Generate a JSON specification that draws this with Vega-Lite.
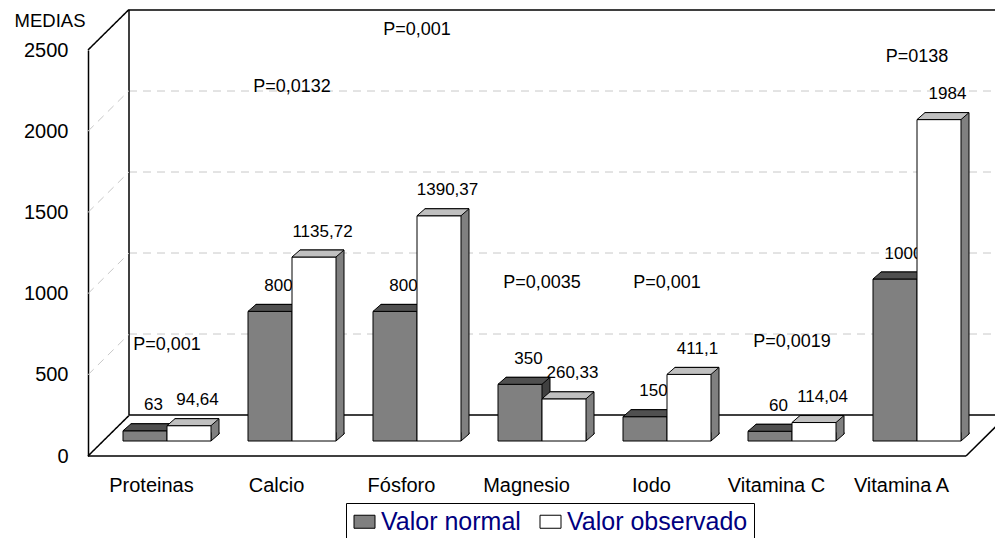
{
  "$schema": "https://vega.github.io/schema/vega-lite/v6.json",
  "width": 907,
  "height": 446,
  "autosize": {"type": "none"},
  "padding": {"left": 88, "top": 10, "right": 0, "bottom": 82},
  "background": "white",
  "config": {
    "view": {"stroke": null},
    "font": "Liberation Sans",
    "locale": {"number": {"decimal": ",", "thousands": ".", "grouping": [3], "currency": ["", " €"]}}
  },
  "datasets": {
    "medias": [
      {"nutriente": "Proteinas", "serie": "Valor normal", "valor": 63},
      {"nutriente": "Proteinas", "serie": "Valor observado", "valor": 94.64},
      {"nutriente": "Calcio", "serie": "Valor normal", "valor": 800},
      {"nutriente": "Calcio", "serie": "Valor observado", "valor": 1135.72},
      {"nutriente": "Fósforo", "serie": "Valor normal", "valor": 800},
      {"nutriente": "Fósforo", "serie": "Valor observado", "valor": 1390.37},
      {"nutriente": "Magnesio", "serie": "Valor normal", "valor": 350},
      {"nutriente": "Magnesio", "serie": "Valor observado", "valor": 260.33},
      {"nutriente": "Iodo", "serie": "Valor normal", "valor": 150},
      {"nutriente": "Iodo", "serie": "Valor observado", "valor": 411.1},
      {"nutriente": "Vitamina C", "serie": "Valor normal", "valor": 60},
      {"nutriente": "Vitamina C", "serie": "Valor observado", "valor": 114.04},
      {"nutriente": "Vitamina A", "serie": "Valor normal", "valor": 1000},
      {"nutriente": "Vitamina A", "serie": "Valor observado", "valor": 1984}
    ],
    "pvalores": [
      {"nutriente": "Proteinas", "p": "P=0,001", "altura": 593},
      {"nutriente": "Calcio", "p": "P=0,0132", "altura": 2185},
      {"nutriente": "Fósforo", "p": "P=0,001", "altura": 2537},
      {"nutriente": "Magnesio", "p": "P=0,0035", "altura": 975},
      {"nutriente": "Iodo", "p": "P=0,001", "altura": 975},
      {"nutriente": "Vitamina C", "p": "P=0,0019", "altura": 611},
      {"nutriente": "Vitamina A", "p": "P=0138", "altura": 2370}
    ],
    "escala": [{"v": 0}, {"v": 500}, {"v": 1000}, {"v": 1500}, {"v": 2000}, {"v": 2500}]
  },
  "resolve": {"scale": {"x": "independent", "y": "independent"}},
  "layer": [
    {
      "data": {"name": "escala"},
      "mark": {"type": "rule"},
      "encoding": {
        "x": {"datum": 0, "type": "quantitative", "scale": {"domain": [0, 7], "range": [41, 916]}, "axis": null},
        "x2": {"datum": 7},
        "y": {"field": "v", "type": "quantitative", "scale": {"domain": [0, 2500], "range": [405, 0], "nice": false}, "axis": null},
        "color": {"condition": {"test": "datum.v > 0 && datum.v < 2500", "value": "#c8c8c8"}, "value": "#000000"},
        "strokeDash": {"condition": {"test": "datum.v > 0 && datum.v < 2500", "value": [8, 6]}, "value": [1, 0]},
        "strokeWidth": {"condition": {"test": "datum.v > 0 && datum.v < 2500", "value": 1}, "value": 1.5}
      }
    },
    {
      "data": {"values": [{}]},
      "mark": {"type": "rule", "color": "#000000", "strokeWidth": 1.5},
      "encoding": {
        "x": {"datum": 0, "type": "quantitative", "scale": {"domain": [0, 7], "range": [41, 916]}, "axis": null},
        "y": {"datum": 0, "type": "quantitative", "scale": {"domain": [0, 2500], "range": [405, 0], "nice": false}, "axis": null},
        "y2": {"datum": 2500}
      }
    },
    {
      "data": {"name": "escala"},
      "mark": {"type": "point", "shape": "M0,0L1,-0.988", "size": 6724, "filled": false, "opacity": 1},
      "encoding": {
        "x": {"datum": 0, "type": "quantitative", "scale": {"domain": [0, 7], "range": [0, 878]}, "axis": null},
        "y": {
          "field": "v", "type": "quantitative",
          "scale": {"domain": [0, 2500], "range": [446, 40], "nice": false},
          "axis": {
            "values": [0, 500, 1000, 1500, 2000, 2500], "format": "d",
            "title": "MEDIAS", "titleAngle": 0, "titleX": -3, "titleY": 10, "titleAlign": "right", "titleBaseline": "middle",
            "titleFontSize": 18.5, "titleFontWeight": "normal", "titleColor": "#000000", "titleFont": "Liberation Sans",
            "labelFontSize": 20, "labelColor": "#000000", "labelFont": "Liberation Sans", "labelPadding": 20,
            "ticks": false, "tickSize": 0, "grid": false, "domain": true, "domainColor": "#000000", "domainWidth": 1.5,
            "labelFlush": false, "labelOverlap": false
          }
        },
        "stroke": {"condition": {"test": "datum.v > 0 && datum.v < 2500", "value": "#c8c8c8"}, "value": "#000000"},
        "strokeDash": {"condition": {"test": "datum.v > 0 && datum.v < 2500", "value": [8, 6]}, "value": [1, 0]},
        "strokeWidth": {"condition": {"test": "datum.v > 0 && datum.v < 2500", "value": 1}, "value": 1.5}
      }
    },
    {
      "data": {"values": [{}]},
      "mark": {"type": "rule", "color": "#000000", "strokeWidth": 1.5},
      "encoding": {
        "x": {"datum": 0, "type": "quantitative", "scale": {"domain": [0, 7], "range": [0, 878]}, "axis": null},
        "x2": {"datum": 7},
        "y": {"datum": 0, "type": "quantitative", "scale": {"domain": [0, 2500], "range": [446, 40], "nice": false}, "axis": null}
      }
    },
    {
      "data": {"values": [{}]},
      "mark": {"type": "point", "shape": "M0,0L1,-0.988", "size": 6724, "filled": false, "opacity": 1, "stroke": "#000000", "strokeWidth": 1.5},
      "encoding": {
        "x": {"datum": 7, "type": "quantitative", "scale": {"domain": [0, 7], "range": [0, 878]}, "axis": null},
        "y": {"datum": 0, "type": "quantitative", "scale": {"domain": [0, 2500], "range": [446, 40], "nice": false}, "axis": null}
      }
    },
    {
      "data": {"name": "medias"},
      "transform": [{"filter": "datum.serie == 'Valor normal'"}],
      "mark": {"type": "bar", "fill": "#404040", "stroke": "#000000", "strokeWidth": 1},
      "encoding": {
        "x": {"field": "nutriente", "type": "nominal", "sort": null, "axis": null,
              "scale": {"domain": ["Proteinas", "Calcio", "Fósforo", "Magnesio", "Iodo", "Vitamina C", "Vitamina A"], "range": [24.5, 899.5], "paddingInner": 0.296, "paddingOuter": 0.148}},
        "xOffset": {"field": "serie", "type": "nominal", "scale": {"domain": ["Valor normal", "Valor observado"]}},
        "y": {"field": "valor", "type": "quantitative", "scale": {"domain": [0, 2500], "range": [424, 19], "nice": false}, "axis": null}
      }
    },
    {
      "data": {"name": "medias"},
      "transform": [{"filter": "datum.serie == 'Valor normal'"}],
      "encoding": {
        "x": {
          "field": "nutriente", "type": "nominal", "sort": null,
          "scale": {"domain": ["Proteinas", "Calcio", "Fósforo", "Magnesio", "Iodo", "Vitamina C", "Vitamina A"], "range": [16.5, 891.5], "paddingInner": 0.296, "paddingOuter": 0.148},
          "axis": {"orient": "bottom", "title": null, "domain": false, "ticks": false, "tickSize": 0, "labelAngle": 0, "labelFontSize": 20, "labelFont": "Liberation Sans", "labelColor": "#000000", "labelPadding": 19, "labelOffset": -15.5}
        },
        "xOffset": {"field": "serie", "type": "nominal", "scale": {"domain": ["Valor normal", "Valor observado"]}},
        "y": {"field": "valor", "type": "quantitative", "scale": {"domain": [0, 2500], "range": [431, 26], "nice": false}, "axis": null}
      },
      "layer": [
        {
          "mark": {"type": "point", "shape": "M0.846,-0.33L0.846,0L1.154,-0.269L1.154,-0.33", "size": 2704, "filled": true, "fill": "#404040", "stroke": "#000000", "strokeWidth": 1, "opacity": 1},
          "encoding": {"y": {"datum": 0, "type": "quantitative"}}
        },
        {
          "mark": {"type": "bar", "stroke": "#000000", "strokeWidth": 1},
          "encoding": {
            "fill": {
              "field": "serie", "type": "nominal",
              "scale": {"domain": ["Valor normal", "Valor observado"], "range": ["#808080", "#ffffff"]},
              "legend": {"orient": "none", "legendX": 258, "legendY": 493, "direction": "horizontal", "title": null, "labelFontSize": 25, "labelFont": "Liberation Sans", "labelColor": "#000080", "labelLimit": 400, "symbolType": "M-1,-0.62L1,-0.62L1,0.62L-1,0.62Z", "symbolSize": 441, "symbolStrokeColor": "#000000", "symbolStrokeWidth": 1, "symbolOpacity": 1, "strokeColor": "#000000", "fillColor": "#ffffff", "padding": 6, "labelOffset": 4, "columnPadding": 17}
            }
          }
        },
        {
          "mark": {"type": "point", "shape": "M-0.846,0L0.846,0L1.154,-0.269L-0.538,-0.269Z", "size": 2704, "filled": true, "fill": "#505050", "stroke": "#000000", "strokeWidth": 1, "opacity": 1}
        },
        {
          "mark": {"type": "text", "dx": 8.5, "dy": -25.5, "baseline": "middle", "align": "center", "fontSize": 17, "font": "Liberation Sans", "color": "#000000"},
          "encoding": {"text": {"field": "valor", "type": "quantitative", "format": ".2~f"}}
        }
      ]
    },
    {
      "data": {"name": "medias"},
      "transform": [{"filter": "datum.serie == 'Valor observado'"}],
      "mark": {"type": "bar", "fill": "#808080", "stroke": "#000000", "strokeWidth": 1},
      "encoding": {
        "x": {"field": "nutriente", "type": "nominal", "sort": null, "axis": null,
              "scale": {"domain": ["Proteinas", "Calcio", "Fósforo", "Magnesio", "Iodo", "Vitamina C", "Vitamina A"], "range": [24.5, 899.5], "paddingInner": 0.296, "paddingOuter": 0.148}},
        "xOffset": {"field": "serie", "type": "nominal", "scale": {"domain": ["Valor normal", "Valor observado"]}},
        "y": {"field": "valor", "type": "quantitative", "scale": {"domain": [0, 2500], "range": [424, 19], "nice": false}, "axis": null}
      }
    },
    {
      "data": {"name": "medias"},
      "encoding": {
        "x": {
          "field": "nutriente", "type": "nominal", "sort": null, "axis": null,
          "scale": {"domain": ["Proteinas", "Calcio", "Fósforo", "Magnesio", "Iodo", "Vitamina C", "Vitamina A"], "range": [16.5, 891.5], "paddingInner": 0.296, "paddingOuter": 0.148}
        },
        "y": {"field": "valor", "type": "quantitative", "scale": {"domain": [0, 2500], "range": [431, 26], "nice": false}, "axis": null}
      },
      "layer": [
        {
          "transform": [{"filter": "datum.serie == 'Valor observado'"}],
          "mark": {"type": "point", "shape": "M0.846,-0.33L0.846,0L1.154,-0.269L1.154,-0.33", "size": 2704, "filled": true, "fill": "#808080", "stroke": "#000000", "strokeWidth": 1, "opacity": 1},
          "encoding": {
            "xOffset": {"field": "serie", "type": "nominal", "scale": {"domain": ["Valor normal", "Valor observado"]}},
            "y": {"datum": 0, "type": "quantitative"}
          }
        },
        {
          "transform": [{"filter": "datum.serie == 'Valor observado'"}],
          "mark": {"type": "bar", "stroke": "#000000", "strokeWidth": 1},
          "encoding": {
            "xOffset": {"field": "serie", "type": "nominal", "scale": {"domain": ["Valor normal", "Valor observado"]}},
            "fill": {
              "field": "serie", "type": "nominal",
              "scale": {"domain": ["Valor normal", "Valor observado"], "range": ["#808080", "#ffffff"]},
              "legend": {"orient": "none", "legendX": 258, "legendY": 493, "direction": "horizontal", "title": null, "labelFontSize": 25, "labelFont": "Liberation Sans", "labelColor": "#000080", "labelLimit": 400, "symbolType": "M-1,-0.62L1,-0.62L1,0.62L-1,0.62Z", "symbolSize": 441, "symbolStrokeColor": "#000000", "symbolStrokeWidth": 1, "symbolOpacity": 1, "strokeColor": "#000000", "fillColor": "#ffffff", "padding": 6, "labelOffset": 4, "columnPadding": 17}
            }
          }
        },
        {
          "transform": [{"filter": "datum.serie == 'Valor observado'"}],
          "mark": {"type": "point", "shape": "M-0.846,0L0.846,0L1.154,-0.269L-0.538,-0.269Z", "size": 2704, "filled": true, "fill": "#c0c0c0", "stroke": "#000000", "strokeWidth": 1, "opacity": 1},
          "encoding": {"xOffset": {"field": "serie", "type": "nominal", "scale": {"domain": ["Valor normal", "Valor observado"]}}}
        },
        {
          "transform": [{"filter": "datum.serie == 'Valor observado'"}],
          "mark": {"type": "text", "dx": 8.5, "dy": -25.5, "baseline": "middle", "align": "center", "fontSize": 17, "font": "Liberation Sans", "color": "#000000"},
          "encoding": {
            "xOffset": {"field": "serie", "type": "nominal", "scale": {"domain": ["Valor normal", "Valor observado"]}},
            "text": {"field": "valor", "type": "quantitative", "format": ".2~f"}
          }
        },
        {
          "data": {"name": "pvalores"},
          "mark": {"type": "text", "baseline": "middle", "align": "center", "fontSize": 18, "font": "Liberation Sans", "color": "#000000"},
          "encoding": {
            "y": {"field": "altura", "type": "quantitative"},
            "text": {"field": "p", "type": "nominal"}
          }
        }
      ]
    }
  ]
}
